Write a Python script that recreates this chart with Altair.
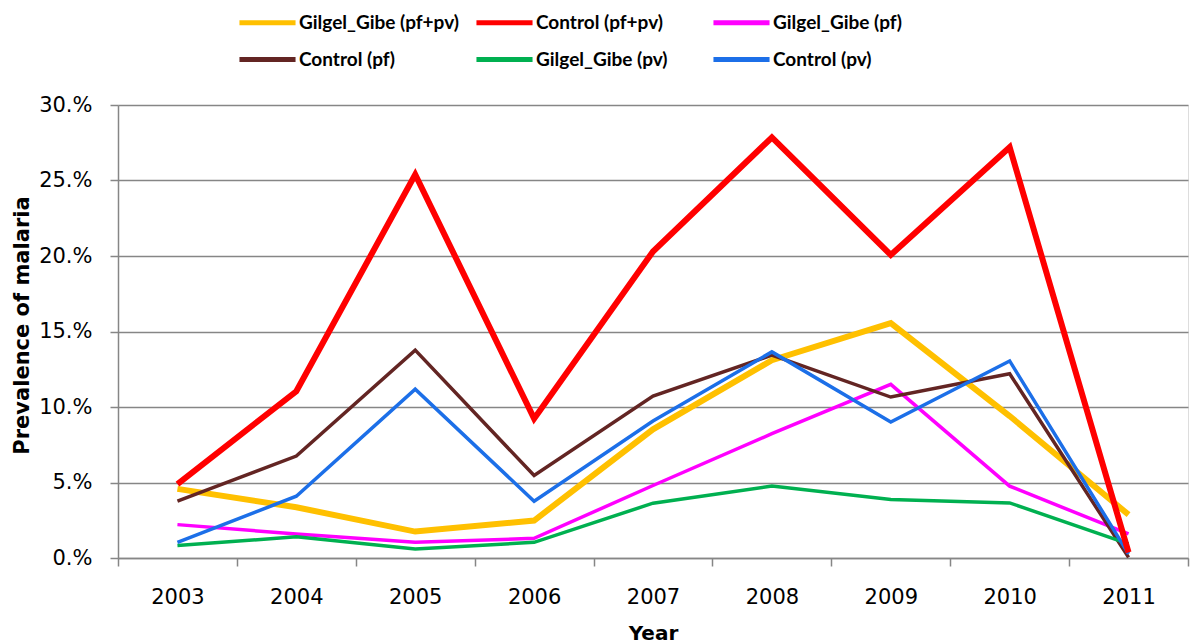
import altair as alt
import pandas as pd

years = ["2003", "2004", "2005", "2006", "2007", "2008", "2009", "2010", "2011"]
series_names = ["Gilgel_Gibe (pf+pv)", "Control (pf+pv)", "Gilgel_Gibe (pf)",
                "Control (pf)", "Gilgel_Gibe (pv)", "Control (pv)"]
gg_pfpv = [4.58, 3.36, 1.75, 2.48, 8.52, 13.1, 15.55, 9.4, 2.87]
ctl_pfpv = [4.9, 11.04, 25.4, 9.23, 20.3, 27.85, 20.07, 27.2, 0.37]
gg_pf = [2.21, 1.59, 1.04, 1.3, 4.8, 8.23, 11.5, 4.76, 1.59]
ctl_pf = [3.76, 6.75, 13.77, 5.46, 10.73, 13.43, 10.66, 12.2, 0.04]
gg_pv = [0.82, 1.41, 0.6, 1.04, 3.63, 4.76, 3.87, 3.65, 0.93]
ctl_pv = [1.04, 4.09, 11.18, 3.76, 9.07, 13.65, 9.0, 13.05, 0.27]
colors = ["#FFC000", "#FF0000", "#FF00FF", "#632523", "#00B050", "#1C6FE8"]
widths = [6, 6, 3.5, 3.5, 3.5, 3.5]
y_ticks = [0, 5, 10, 15, 20, 25, 30]

values = [gg_pfpv, ctl_pfpv, gg_pf, ctl_pf, gg_pv, ctl_pv]
draw_order = [0, 2, 3, 4, 5, 1]
rows = []
for i in draw_order:
    for y, v in zip(years, values[i]):
        rows.append({"year": y, "value": v, "series": series_names[i],
                     "w": widths[i], "ord": draw_order.index(i)})
df = pd.DataFrame(rows)

grid_color = "#868686"

chart = alt.Chart(df).mark_line().encode(
    x=alt.X("year:O", title="Year",
            scale=alt.Scale(type="band", paddingInner=0, paddingOuter=0),
            axis=alt.Axis(tickBand="extent", labelAngle=0, tickSize=8, tickColor=grid_color,
                          tickWidth=1.5, domainColor=grid_color, domainWidth=1.5,
                          labelFont="DejaVu Sans", labelFontSize=21, labelColor="#000000",
                          labelPadding=20, titleFont="DejaVu Sans", titleFontSize=20,
                          titleFontWeight="bold", titleColor="#000000", titlePadding=16,
                          grid=False)),
    y=alt.Y("value:Q", title="Prevalence of malaria",
            scale=alt.Scale(domain=[0, 30], nice=False),
            axis=alt.Axis(values=y_ticks, labelExpr="datum.value + '.%'", tickSize=8,
                          tickColor=grid_color, tickWidth=1.5, domainColor=grid_color,
                          domainWidth=1.5, gridColor=grid_color, gridWidth=1.5,
                          labelFont="DejaVu Sans", labelFontSize=21, labelColor="#000000",
                          labelPadding=18, titleFont="DejaVu Sans", titleFontSize=21,
                          titleFontWeight="bold", titleColor="#000000", titlePadding=6,
                          titleY=220)),
    color=alt.Color("series:N", title=None,
                    scale=alt.Scale(domain=series_names, range=colors),
                    legend=alt.Legend(orient="none", legendX=136, legendY=-96, columns=3,
                                      direction="horizontal", gridAlign="all",
                                      symbolType="M-2.55,0H2.55", symbolSize=484,
                                      symbolStrokeWidth=5,
                                      labelOffset=18, labelFont="Lato", labelFontSize=19,
                                      labelFontWeight="bold", labelColor="#000000",
                                      labelLimit=400, columnPadding=7, rowPadding=13)),
    strokeWidth=alt.StrokeWidth("w:Q", scale=None, legend=None),
    order=alt.Order("ord:Q"),
).properties(
    width=1070, height=453,
    autosize=alt.AutoSizeParams(type="none"),
    padding={"left": 110, "top": 97, "right": 4, "bottom": 95},
).configure_view(stroke=None).configure(background="white")

chart.save("out.html", embed_options={"renderer": "svg", "actions": False})
